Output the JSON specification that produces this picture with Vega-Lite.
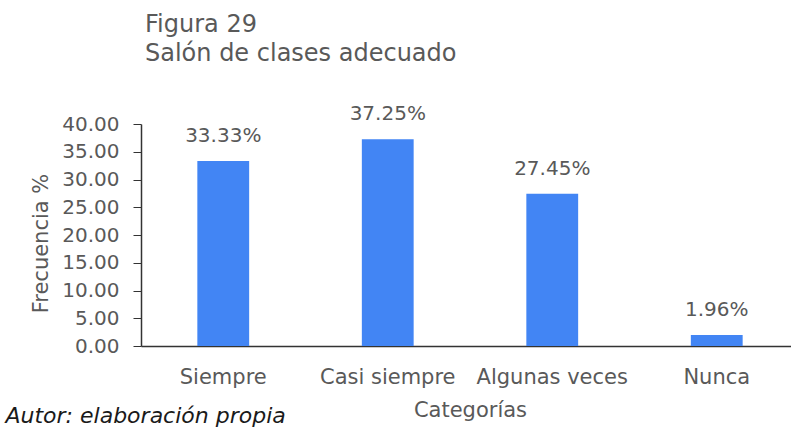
{
  "$schema": "https://vega.github.io/schema/vega-lite/v6.json",
  "autosize": {"type": "none"},
  "padding": {"left": 141, "top": 124, "right": 0, "bottom": 86},
  "width": 658,
  "height": 222,
  "background": "white",
  "title": {
    "text": ["Figura 29", "Salón de clases adecuado"],
    "anchor": "start",
    "frame": "group",
    "font": "DejaVu Sans",
    "fontSize": 24,
    "fontWeight": "normal",
    "color": "#595959",
    "lineHeight": 29,
    "dx": 4,
    "offset": 38
  },
  "data": {
    "values": [
      {"Categoria": "Siempre", "Frecuencia": 33.33, "Etiqueta": "33.33%"},
      {"Categoria": "Casi siempre", "Frecuencia": 37.25, "Etiqueta": "37.25%"},
      {"Categoria": "Algunas veces", "Frecuencia": 27.45, "Etiqueta": "27.45%"},
      {"Categoria": "Nunca", "Frecuencia": 1.96, "Etiqueta": "1.96%"}
    ]
  },
  "config": {
    "view": {"stroke": null},
    "axis": {"grid": false}
  },
  "encoding": {
    "y": {
      "field": "Frecuencia",
      "type": "quantitative",
      "scale": {"domain": [0, 40]},
      "axis": {
        "title": "Frecuencia %",
        "titleFont": "DejaVu Sans",
        "titleFontSize": 21,
        "titleFontWeight": "normal",
        "titleColor": "#595959",
        "titlePadding": 10,
        "titleY": 119,
        "values": [0, 5, 10, 15, 20, 25, 30, 35, 40],
        "format": ".2f",
        "labelOverlap": false,
        "labelFont": "DejaVu Sans",
        "labelFontSize": 20,
        "labelColor": "#595959",
        "labelPadding": 14,
        "tickSize": 8,
        "tickColor": "#333333",
        "domainColor": "#333333",
        "domainWidth": 1.5
      }
    }
  },
  "layer": [
    {
      "encoding": {
        "x": {
          "field": "Categoria",
          "type": "nominal",
          "sort": null,
          "scale": {"paddingInner": 0.685, "paddingOuter": 0.3425},
          "axis": {
            "orient": "bottom",
            "title": "Categorías",
            "titleFont": "DejaVu Sans",
            "titleFontSize": 21,
            "titleFontWeight": "normal",
            "titleColor": "#595959",
            "titlePadding": 12,
            "labelFont": "DejaVu Sans",
            "labelFontSize": 21,
            "labelColor": "#595959",
            "labelAngle": 0,
            "labelPadding": 20,
            "labelOverlap": false,
            "ticks": false,
            "domainColor": "#333333",
            "domainWidth": 1.5
          }
        }
      },
      "layer": [
        {"mark": {"type": "bar", "color": "#4285F4"}},
        {
          "mark": {
            "type": "text",
            "baseline": "alphabetic",
            "dy": -19,
            "font": "DejaVu Sans",
            "fontSize": 20,
            "color": "#595959"
          },
          "encoding": {"text": {"field": "Etiqueta"}}
        }
      ]
    },
    {
      "mark": {"type": "bar", "opacity": 0},
      "encoding": {
        "x": {
          "field": "Categoria",
          "type": "nominal",
          "sort": null,
          "axis": {
            "orient": "bottom",
            "title": "Autor: elaboración propia",
            "titleFont": "DejaVu Sans",
            "titleFontSize": 22,
            "titleFontStyle": "italic",
            "titleFontWeight": "normal",
            "titleColor": "#1a1a1a",
            "titleAnchor": "start",
            "titleAlign": "left",
            "titleX": -136,
            "titleY": 59,
            "labels": false,
            "ticks": false,
            "domain": false
          }
        }
      }
    }
  ],
  "resolve": {"scale": {"x": "independent"}}
}
